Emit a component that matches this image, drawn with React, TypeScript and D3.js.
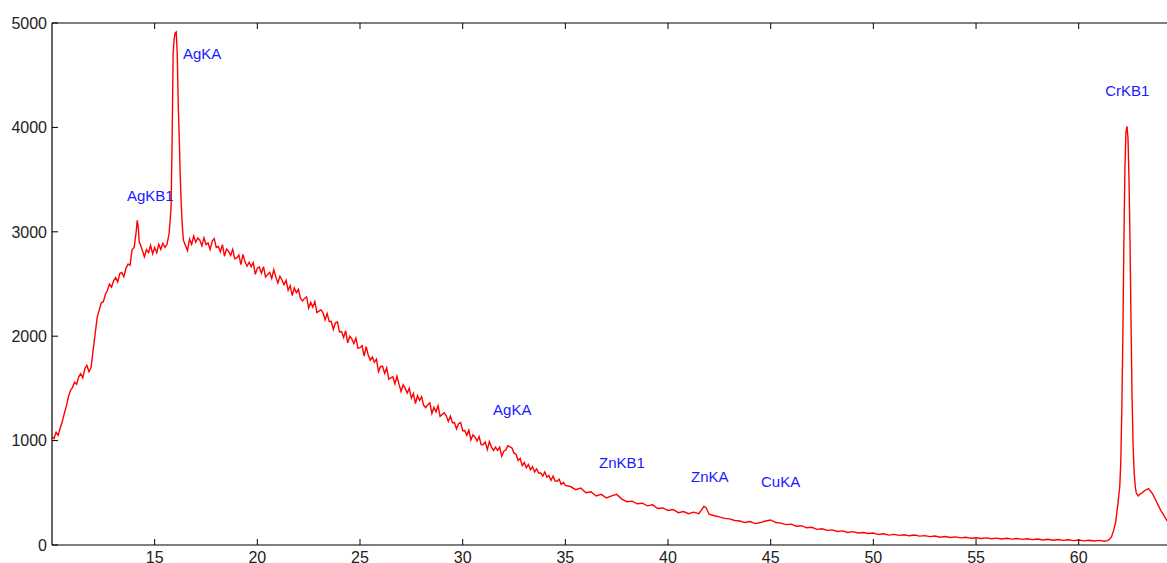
import React from "react";
import * as d3 from "d3";

// ---- data (energy, counts) ----
const lowRise: [number, number][] = [
  [10.0, 1035], [10.1, 1020], [10.2, 1080], [10.3, 1050], [10.4, 1120], [10.5, 1180],
  [10.6, 1260], [10.7, 1330], [10.8, 1420], [10.9, 1480], [11.0, 1510], [11.1, 1560],
  [11.2, 1540], [11.3, 1610], [11.4, 1640], [11.5, 1600], [11.6, 1690], [11.7, 1720],
  [11.8, 1660], [11.9, 1700], [12.0, 1860], [12.1, 2020], [12.2, 2180], [12.3, 2250],
  [12.4, 2320], [12.5, 2330], [12.6, 2400], [12.7, 2440], [12.8, 2500], [12.9, 2470],
  [13.0, 2530], [13.1, 2560], [13.2, 2520], [13.3, 2600], [13.4, 2610], [13.5, 2570],
  [13.6, 2650], [13.7, 2690], [13.8, 2680], [13.9, 2830], [14.0, 2850], [14.1, 3000],
];

const agPeaks: [number, number][] = [
  [14.15, 3110], [14.2, 3050], [14.25, 2900], [14.3, 2880], [14.4, 2820], [14.5, 2760],
  [14.6, 2830], [14.7, 2800], [14.8, 2870], [14.9, 2790], [15.0, 2850], [15.1, 2800],
  [15.2, 2880], [15.3, 2830], [15.4, 2890], [15.5, 2850], [15.6, 2880], [15.7, 2980],
  [15.75, 3100], [15.8, 3240], [15.85, 3880], [15.9, 4710], [15.95, 4850], [16.0, 4905],
  [16.05, 4914], [16.1, 4700], [16.15, 4200], [16.2, 3880], [16.25, 3500], [16.3, 3240],
  [16.35, 3045], [16.4, 2920], [16.5, 2870], [16.6, 2820], [16.7, 2930], [16.8, 2880],
  [16.9, 2960], [17.0, 2900], [17.1, 2940],
];

const mainDecay: [number, number][] = [
  [17.2, 2920], [17.3, 2866], [17.4, 2942], [17.5, 2878], [17.6, 2894], [17.7, 2830],
  [17.8, 2908], [17.9, 2934], [18.0, 2850], [18.1, 2859], [18.2, 2808], [18.3, 2877],
  [18.4, 2766], [18.5, 2835], [18.6, 2814], [18.7, 2773], [18.8, 2832], [18.9, 2741],
  [19.0, 2750], [19.1, 2778], [19.2, 2686], [19.3, 2784], [19.4, 2712], [19.5, 2670],
  [19.6, 2708], [19.7, 2666], [19.8, 2704], [19.9, 2592], [20.0, 2650], [20.1, 2662],
  [20.2, 2604], [20.3, 2666], [20.4, 2568], [20.5, 2590], [20.6, 2612], [20.7, 2554],
  [20.8, 2636], [20.9, 2568], [21.0, 2510], [21.1, 2574], [21.2, 2538], [21.3, 2492],
  [21.4, 2536], [21.5, 2440], [21.6, 2484], [21.7, 2388], [21.8, 2462], [21.9, 2416],
  [22.0, 2450], [22.1, 2364], [22.2, 2338], [22.3, 2362], [22.4, 2376], [22.5, 2270],
  [22.6, 2324], [22.7, 2278], [22.8, 2332], [22.9, 2226], [23.0, 2240], [23.1, 2252],
  [23.2, 2224], [23.3, 2156], [23.4, 2218], [23.5, 2140], [23.6, 2142], [23.7, 2064],
  [23.8, 2126], [23.9, 2138], [24.0, 2040], [24.1, 2044], [24.2, 1988], [24.3, 2052],
  [24.4, 1936], [24.5, 2000], [24.6, 1974], [24.7, 1928], [24.8, 1982], [24.9, 1886],
  [25.0, 1890], [25.1, 1910], [25.2, 1810], [25.3, 1900], [25.4, 1820], [25.5, 1770],
  [25.6, 1800], [25.7, 1750], [25.8, 1780], [25.9, 1660], [26.0, 1710], [26.1, 1712],
  [26.2, 1644], [26.3, 1696], [26.4, 1588], [26.5, 1600], [26.6, 1612], [26.7, 1544],
  [26.8, 1616], [26.9, 1538], [27.0, 1470], [27.1, 1535], [27.2, 1500], [27.3, 1455],
  [27.4, 1500], [27.5, 1405], [27.6, 1450], [27.7, 1355], [27.8, 1430], [27.9, 1385],
  [28.0, 1420], [28.1, 1338], [28.2, 1316], [28.3, 1344], [28.4, 1362], [28.5, 1260],
  [28.6, 1318], [28.7, 1276], [28.8, 1334], [28.9, 1232], [29.0, 1250], [29.1, 1266],
  [29.2, 1238], [29.3, 1184], [29.4, 1234], [29.5, 1172], [29.6, 1174], [29.7, 1112],
  [29.8, 1162], [29.9, 1172], [30.0, 1094], [30.1, 1096], [30.2, 1050], [30.3, 1100],
  [30.4, 1006], [30.5, 1056], [30.6, 1034], [30.7, 996], [30.8, 1038], [30.9, 960],
  [31.0, 962], [31.1, 986], [31.2, 914], [31.3, 990], [31.4, 938], [31.5, 906],
  [31.6, 938], [31.7, 906], [31.8, 938], [31.9, 850], [32.0, 898], [32.1, 910],
  [32.2, 950], [32.3, 940], [32.4, 930], [32.5, 880], [32.6, 870], [32.7, 810],
  [32.8, 830], [32.9, 760], [33.0, 790], [33.1, 740], [33.2, 770], [33.3, 720],
  [33.4, 750], [33.5, 700], [33.6, 730], [33.7, 690], [33.8, 690], [33.9, 660],
  [34.0, 700], [34.1, 650], [34.2, 665], [34.3, 620], [34.4, 660], [34.5, 615],
  [34.6, 610], [34.7, 630], [34.8, 580], [34.9, 600], [35.0, 570],
];

const highTail: [number, number][] = [
  [35.25, 560], [35.5, 530], [35.75, 545], [36.0, 500], [36.25, 510], [36.5, 470],
  [36.75, 485], [37.0, 450], [37.25, 470], [37.5, 485], [37.75, 440], [38.0, 415],
  [38.25, 420], [38.5, 395], [38.75, 400], [39.0, 375], [39.25, 385], [39.5, 350],
  [39.75, 355], [40.0, 330], [40.25, 340], [40.5, 310], [40.75, 320], [41.0, 300],
  [41.25, 315], [41.5, 300], [41.75, 370], [41.85, 360], [42.0, 295], [42.25, 280],
  [42.5, 270], [42.75, 255], [43.0, 250], [43.25, 235], [43.5, 230], [43.75, 215],
  [44.0, 225], [44.25, 205], [44.5, 215], [44.75, 230], [45.0, 240], [45.25, 215],
  [45.5, 210], [45.75, 195], [46.0, 200], [46.25, 180], [46.5, 185], [46.75, 165],
  [47.0, 170], [47.25, 150], [47.5, 155], [47.75, 140], [48.0, 145], [48.25, 130],
  [48.5, 135], [48.75, 120], [49.0, 128], [49.25, 115], [49.5, 120], [49.75, 110],
  [50.0, 115], [50.25, 100], [50.5, 108], [50.75, 95], [51.0, 102], [51.25, 92],
  [51.5, 98], [51.75, 88], [52.0, 95], [52.25, 85], [52.5, 90], [52.75, 80],
  [53.0, 86], [53.25, 75], [53.5, 82], [53.75, 72], [54.0, 78], [54.25, 68],
  [54.5, 74], [54.75, 64], [55.0, 70], [55.25, 62], [55.5, 68], [55.75, 60],
  [56.0, 66], [56.25, 58], [56.5, 64], [56.75, 56], [57.0, 62], [57.25, 54],
  [57.5, 60], [57.75, 52], [58.0, 58], [58.25, 48], [58.5, 55], [58.75, 46],
  [59.0, 52], [59.25, 44], [59.5, 50], [59.75, 42], [60.0, 48], [60.25, 40],
  [60.5, 46], [60.75, 38], [61.0, 44], [61.25, 36],
];

const crPeak: [number, number][] = [
  [61.4, 42], [61.5, 55], [61.6, 80], [61.7, 140], [61.8, 220], [61.9, 380],
  [62.0, 560], [62.05, 800], [62.1, 1300], [62.15, 2000], [62.2, 2900], [62.25, 3600],
  [62.3, 3950], [62.35, 4010], [62.4, 3900], [62.45, 3500], [62.5, 2900], [62.55, 2100],
  [62.6, 1400], [62.65, 950], [62.7, 700], [62.75, 570], [62.8, 500], [62.9, 470],
  [63.0, 490], [63.1, 500], [63.2, 520], [63.3, 530], [63.4, 540], [63.5, 515],
  [63.6, 490], [63.7, 450], [63.8, 410], [63.9, 370], [64.0, 330], [64.1, 300],
  [64.2, 265], [64.3, 235], [64.4, 210],
];

const xTicks = [15, 20, 25, 30, 35, 40, 45, 50, 55, 60];
const yTicks = [0, 1000, 2000, 3000, 4000, 5000];

const peakNames = ["AgKB1", "AgKA", "AgKA", "ZnKB1", "ZnKA", "CuKA", "CrKB1"];
const peakLabelAt: [number, number][] = [
  [13.65, 3295], [16.38, 4655], [31.48, 1245], [36.64, 738], [41.12, 603], [44.53, 556], [61.29, 4300],
];

const W = 1167;
const H = 563;
const M = { left: 52, right: 1167, top: 23, bottom: 545 };

export default function App() {
  const data = [...lowRise, ...agPeaks, ...mainDecay, ...highTail, ...crPeak];
  const x = d3.scaleLinear().domain([10, 64.3]).range([M.left, M.right]);
  const y = d3.scaleLinear().domain([0, 5000]).range([M.bottom, M.top]);
  const line = d3
    .line<[number, number]>()
    .x((d) => x(d[0]))
    .y((d) => y(d[1]));
  const font = "'Liberation Sans', Arial, sans-serif";
  const tickLen = 6;

  return (
    <div style={{ position: "fixed", left: 0, top: 0 }}>
      <svg width={W} height={H} style={{ display: "block", background: "#fff" }}>
        <defs>
          <clipPath id="plot">
            <rect x={M.left} y={M.top - 10} width={M.right - M.left} height={M.bottom - M.top + 10} />
          </clipPath>
        </defs>
        <rect x={0} y={0} width={W} height={H} fill="#fff" />
        <path
          d={line(data) || ""}
          fill="none"
          stroke="#ff0000"
          strokeWidth={1.4}
          clipPath="url(#plot)"
        />
        <line x1={M.left} x2={M.right} y1={M.bottom} y2={M.bottom} stroke="#000" strokeWidth={1.2} />
        <line x1={M.left} x2={M.right} y1={M.top} y2={M.top} stroke="#000" strokeWidth={1.2} />
        <line x1={M.left} x2={M.left} y1={M.top} y2={M.bottom} stroke="#000" strokeWidth={1.2} />
        {xTicks.map((t) => (
          <g key={"x" + t}>
            <line x1={x(t)} x2={x(t)} y1={M.bottom} y2={M.bottom - tickLen} stroke="#000" />
            <line x1={x(t)} x2={x(t)} y1={M.top} y2={M.top + tickLen} stroke="#000" />
            <text x={x(t)} y={563} textAnchor="middle" fontFamily={font} fontSize={16} fill="#222">
              {t}
            </text>
          </g>
        ))}
        {yTicks.map((t) => (
          <g key={"y" + t}>
            <line x1={M.left} x2={M.left + tickLen} y1={y(t)} y2={y(t)} stroke="#000" />
            <text
              x={47}
              y={y(t)}
              dy="0.36em"
              textAnchor="end"
              fontFamily={font}
              fontSize={16}
              fill="#222"
            >
              {t}
            </text>
          </g>
        ))}
        {peakNames.map((n, i) => (
          <text
            key={"p" + i}
            x={x(peakLabelAt[i][0])}
            y={y(peakLabelAt[i][1])}
            fontFamily={font}
            fontSize={15}
            fill="#1a1aff"
          >
            {n}
          </text>
        ))}
      </svg>
    </div>
  );
}
